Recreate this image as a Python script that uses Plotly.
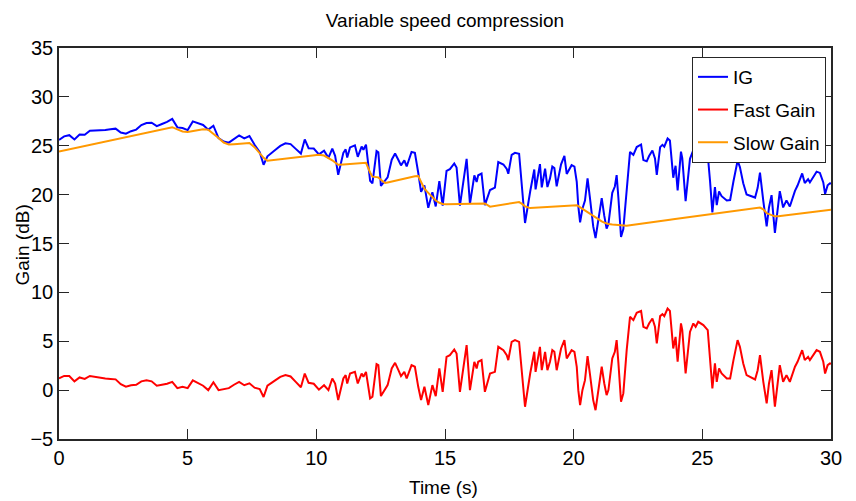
import plotly.graph_objects as go

# time axis (s) and the three gain traces (dB)
time_s = [
    0, 0.2, 0.4, 0.6, 0.8, 1.0, 1.2, 1.4, 1.6, 1.8,
    2.0, 2.2, 2.4, 2.6, 2.8, 3.0, 3.2, 3.4, 3.6, 3.8,
    4.0, 4.2, 4.4, 4.6, 4.8, 5.0, 5.2, 5.4, 5.6, 5.8,
    6.0, 6.2, 6.4, 6.6, 6.8, 7.0, 7.2, 7.4, 7.6, 7.8,
    7.95, 8.1, 8.4, 8.6, 8.8, 9.0, 9.2, 9.4, 9.55, 9.7, 9.9, 10.1, 10.3,
    10.47, 10.62, 10.73, 10.85, 11.05, 11.14, 11.2, 11.31, 11.5, 11.61, 11.76, 11.83, 11.93,
    12.09, 12.18, 12.34, 12.41, 12.51, 12.67, 12.77, 12.93, 13.06, 13.19, 13.29, 13.42, 13.51, 13.7, 13.83, 13.96,
    14.07, 14.2, 14.35, 14.51, 14.64, 14.78, 14.91, 15.06, 15.19, 15.36, 15.45, 15.58, 15.75, 15.84, 15.97,
    16.14, 16.23, 16.29, 16.42, 16.55, 16.75, 16.94, 17.07, 17.27, 17.4, 17.46, 17.59, 17.72, 17.88, 17.98,
    18.11, 18.31, 18.47, 18.52, 18.6, 18.69, 18.76, 18.89, 18.98, 19.08, 19.17, 19.25, 19.34, 19.51, 19.64, 19.73, 19.92, 20.03,
    20.12, 20.18, 20.25, 20.34, 20.44, 20.54, 20.63, 20.76, 20.85, 20.98, 21.09, 21.19, 21.28, 21.35, 21.5, 21.6, 21.67, 21.74, 21.84, 21.93,
    22.06, 22.19, 22.32, 22.45, 22.62, 22.71, 22.84, 22.93, 23.06, 23.16, 23.23, 23.36, 23.45, 23.52, 23.65, 23.74,
    23.87, 23.96, 24.04, 24.17, 24.22, 24.35, 24.52, 24.65, 24.74, 24.84, 25.04, 25.21, 25.3, 25.39, 25.49, 25.56, 25.65, 25.75,
    25.95, 26.08, 26.21, 26.37, 26.46, 26.59, 26.72, 27.05, 27.15, 27.24, 27.37, 27.5, 27.59, 27.69, 27.82, 27.95,
    28.01, 28.14, 28.27, 28.4, 28.6, 28.7, 28.88, 28.98, 29.11, 29.18, 29.31, 29.44, 29.57, 29.7, 29.77, 29.87, 29.96, 30.0,
]

ig_db = [
    25.6, 25.96, 26.08, 25.64, 26.15, 26.12, 26.53, 26.55, 26.56, 26.62,
    26.69, 26.75, 26.36, 26.23, 26.49, 26.65, 27.12, 27.33, 27.35, 27.01,
    27.22, 27.44, 27.75, 26.88, 26.81, 26.6, 27.49, 27.29, 27.13, 26.65,
    27.05, 25.79, 25.43, 25.32, 25.71, 26.06, 25.75, 25.99, 25.1, 24.34,
    23.06, 23.92, 24.57, 24.98, 25.25, 25.17, 24.68, 24.2, 25.65, 24.75, 24.72, 24.12, 24.5,
    23.76, 24.7, 23.97, 22.03, 24.28, 24.63, 23.79, 24.83, 25.04, 23.87, 24.92, 24.59, 25.12,
    21.42, 21.16, 24.45, 24.32, 20.9, 21.36, 21.76, 23.57, 24.21, 23.54, 22.99, 23.51, 22.88, 24.36, 24.27, 22.24,
    20.28, 20.94, 18.65, 20.24, 18.79, 21.39, 18.87, 22.42, 22.6, 23.19, 22.78, 18.87, 21.95, 23.66, 19.06,
    21.97, 21.3, 21.98, 22.16, 18.93, 20.47, 20.72, 23.33, 23.08, 22.62, 22.14, 24.06, 24.28, 24.18, 20.78,
    17.1, 20.32, 22.57, 20.53, 21.57, 23.12, 20.74, 22.65, 20.78, 21.66, 22.87, 22.71, 20.85, 23.1, 23.97, 22.12, 23.01, 22.86,
    21.31, 18.82, 17.17, 18.55, 19.39, 21.66, 19.71, 16.75, 15.55, 17.74, 19.65, 17.82, 16.52, 16.99, 20.18, 20.83, 22.0, 19.6, 15.66, 16.48,
    20.91, 24.37, 24.07, 24.87, 25.13, 23.53, 23.41, 23.95, 24.51, 23.7, 22.01, 24.86, 25.09, 24.91, 25.74, 25.53,
    21.73, 22.95, 20.43, 24.39, 23.72, 19.34, 23.66, 24.56, 24.26, 24.8, 24.53, 24.08, 21.39, 18.18, 20.78, 18.92, 20.32, 19.84,
    19.4, 19.45, 21.37, 23.47, 22.82, 21.17, 20.02, 19.7, 20.69, 22.26, 19.34, 16.74, 18.69, 19.95, 16.08, 19.48,
    20.36, 18.69, 19.41, 18.78, 20.38, 20.93, 22.17, 21.19, 21.57, 21.25, 21.8, 22.35, 22.22, 21.25, 20.07, 20.96, 21.16, 21.15,
]

fast_db = [
    1.2, 1.45, 1.45, 0.9, 1.3, 1.15, 1.45, 1.35, 1.25, 1.2,
    1.15, 1.1, 0.6, 0.35, 0.5, 0.55, 0.9, 1.0, 0.9, 0.45,
    0.55, 0.65, 0.85, 0.2, 0.35, 0.2, 1.0, 0.7, 0.45, 0.0,
    0.8, 0.0, 0.1, 0.2, 0.55, 0.85, 0.5, 0.7, 0.25, 0.1,
    -0.7, 0.45, 1.0, 1.35, 1.55, 1.4, 0.85, 0.3, 1.7, 0.75, 0.65, 0.05, 0.5,
    0.0, 1.19, 0.68, -1.02, 1.19, 1.53, 0.68, 1.7, 1.87, 0.68, 1.7, 1.36, 1.87,
    -0.85, -0.68, 2.66, 2.56, -0.61, 0.17, 0.51, 2.22, 2.79, 2.04, 1.43, 1.87, 1.19, 2.56, 2.39, 0.34,
    -1.02, 0.34, -1.53, 0.51, -0.61, 2.22, -0.17, 3.41, 3.58, 4.16, 3.75, -0.17, 2.9, 4.6, 0.0,
    2.9, 2.22, 2.9, 3.07, -0.17, 1.7, 1.87, 4.43, 4.09, 3.58, 3.07, 4.94, 5.11, 4.94, 1.7,
    -1.7, 1.7, 3.92, 1.87, 2.9, 4.43, 2.04, 3.92, 2.04, 2.9, 4.09, 3.92, 2.04, 4.26, 5.11, 3.24, 4.09, 3.92,
    2.39, 0.0, -1.53, 0.0, 1.02, 3.48, 1.7, -1.02, -2.05, 0.34, 2.39, 0.68, -0.51, 0.0, 3.24, 3.92, 5.11, 2.73, -1.19, -0.34,
    4.09, 7.5, 7.16, 7.91, 8.11, 6.48, 6.31, 6.82, 7.33, 6.48, 4.77, 7.57, 7.77, 7.57, 8.35, 8.11,
    4.26, 5.45, 2.9, 6.82, 6.13, 1.7, 5.96, 6.82, 6.48, 6.99, 6.65, 6.13, 3.41, 0.17, 2.73, 0.85, 2.22, 1.7,
    1.19, 1.19, 3.07, 5.11, 4.43, 2.73, 1.53, 1.09, 2.04, 3.58, 0.85, -1.36, 0.68, 2.04, -1.7, 1.7,
    2.56, 0.85, 1.53, 0.85, 2.39, 2.9, 4.09, 3.07, 3.41, 3.07, 3.58, 4.09, 3.92, 2.9, 1.7, 2.56, 2.73, 2.7,
]

slow_db = [
    24.4, 24.51, 24.63, 24.74, 24.85, 24.97, 25.08, 25.2, 25.31, 25.42,
    25.54, 25.65, 25.76, 25.88, 25.99, 26.1, 26.22, 26.33, 26.45, 26.56,
    26.67, 26.79, 26.9, 26.68, 26.46, 26.4, 26.49, 26.59, 26.68, 26.65,
    26.25, 25.79, 25.33, 25.12, 25.16, 25.21, 25.25, 25.29, 24.85, 24.24,
    23.76, 23.47, 23.57, 23.63, 23.7, 23.77, 23.83, 23.9, 23.95, 24.0, 24.07, 24.07, 24.0,
    23.76, 23.51, 23.29, 23.05, 23.09, 23.1, 23.11, 23.13, 23.17, 23.19, 23.22, 23.23, 23.25,
    22.27, 21.84, 21.79, 21.76, 21.51, 21.19, 21.25, 21.35, 21.42, 21.5, 21.56, 21.64, 21.69, 21.8, 21.88, 21.9,
    21.3, 20.6, 20.18, 19.73, 19.4, 19.17, 19.04, 19.01, 19.02, 19.03, 19.03, 19.04, 19.05, 19.06, 19.06,
    19.07, 19.08, 19.08, 19.09, 19.1, 18.77, 18.85, 18.9, 18.99, 19.04, 19.07, 19.12, 19.17, 19.24, 19.08,
    18.8, 18.62, 18.65, 18.66, 18.67, 18.69, 18.7, 18.73, 18.74, 18.76, 18.78, 18.79, 18.81, 18.84, 18.86, 18.88, 18.92, 18.94,
    18.92, 18.82, 18.7, 18.55, 18.37, 18.18, 18.01, 17.77, 17.6, 17.4, 17.26, 17.14, 17.03, 16.99, 16.94, 16.91, 16.89, 16.87, 16.85, 16.82,
    16.82, 16.87, 16.91, 16.96, 17.02, 17.05, 17.1, 17.13, 17.18, 17.22, 17.24, 17.29, 17.32, 17.34, 17.39, 17.42,
    17.47, 17.5, 17.53, 17.57, 17.59, 17.64, 17.7, 17.74, 17.78, 17.81, 17.88, 17.95, 17.98, 18.01, 18.05, 18.07, 18.1, 18.14,
    18.21, 18.26, 18.3, 18.36, 18.39, 18.44, 18.49, 18.61, 18.65, 18.68, 18.49, 18.1, 18.01, 17.91, 17.78, 17.78,
    17.8, 17.84, 17.88, 17.93, 17.99, 18.03, 18.08, 18.12, 18.16, 18.18, 18.22, 18.26, 18.3, 18.35, 18.37, 18.4, 18.43, 18.45,
]

x_ticks = [0, 5, 10, 15, 20, 25, 30]
y_ticks = [-5, 0, 5, 10, 15, 20, 25, 30, 35]

FONT = "Liberation Sans, Arial, sans-serif"
AXIS_COL = "#262626"

fig = go.Figure()
fig.add_trace(go.Scatter(x=time_s, y=ig_db, mode="lines", name="IG", legendgroup="ig",
                         line=dict(color="rgb(0,0,255)", width=2)))
fig.add_trace(go.Scatter(x=time_s, y=fast_db, mode="lines", name="Fast Gain", legendgroup="fast",
                         line=dict(color="rgb(255,0,0)", width=2)))
fig.add_trace(go.Scatter(x=time_s, y=slow_db, mode="lines", name="Slow Gain", legendgroup="slow",
                         line=dict(color="rgb(255,153,0)", width=2)))

axis_style = dict(
    showline=True, linecolor=AXIS_COL, linewidth=1.5, mirror="ticks",
    ticks="inside", ticklen=10, tickcolor=AXIS_COL, tickwidth=1,
    showgrid=False, zeroline=False,
    tickfont=dict(family=FONT, size=20, color="black"),
)

fig.update_xaxes(range=[0, 30], tickvals=x_ticks, **axis_style)
fig.update_yaxes(range=[-5, 35], tickvals=y_ticks, **axis_style)

# page body adds an 8px offset, so margins are shifted to keep the plot box in place
fig.update_layout(
    width=856, height=501,
    margin=dict(l=51, r=33, t=40, b=70),
    paper_bgcolor="white", plot_bgcolor="white",
    font=dict(family=FONT, size=20, color="black"),
    title=dict(text="Variable speed compression", x=0.5, xref="paper",
               xanchor="center", y=0.976, yanchor="middle",
               font=dict(family=FONT, size=19, color="black")),
    legend=dict(x=0.9935, y=0.977, xanchor="right", yanchor="top",
                bgcolor="white", bordercolor=AXIS_COL, borderwidth=1,
                font=dict(family=FONT, size=19, color="black"),
                tracegroupgap=5, itemwidth=30),
    annotations=[
        dict(text="Time (s)", xref="paper", yref="paper", x=0.498, y=-0.123,
             xanchor="center", yanchor="middle", showarrow=False,
             font=dict(family=FONT, size=19, color="black")),
        dict(text="Gain (dB)", xref="paper", yref="paper", x=-0.0473, y=0.496,
             xanchor="center", yanchor="middle", textangle=-90, showarrow=False,
             font=dict(family=FONT, size=19, color="black")),
    ],
)

fig.write_html("out.html")
